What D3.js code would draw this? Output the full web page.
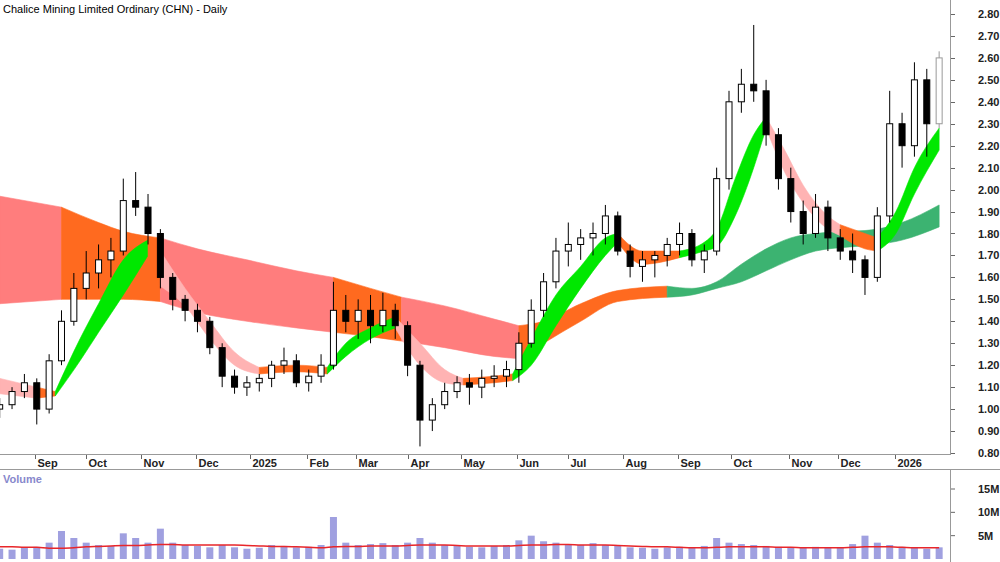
<!DOCTYPE html><html><head><meta charset="utf-8">
<script src="https://cdn.jsdelivr.net/npm/d3@7"></script>
<style>body{margin:0;background:#fff}svg{display:block;font-family:"Liberation Sans",Arial,sans-serif}</style>
</head><body><svg id="c" width="1000" height="562"></svg><script>
// weekly OHLC, weeks starting 2024-08-12
const startWeek = "2024-08-12";
const opens  = [1.00,1.02,1.08,1.12,1.00,1.22,1.40,1.55,1.62,1.68,1.72,1.95,1.92,1.80,1.60,1.50,1.45,1.40,1.28,1.15,1.10,1.12,1.14,1.20,1.22,1.12,1.15,1.20,1.45,1.40,1.45,1.38,1.45,1.38,1.20,0.95,1.02,1.08,1.12,1.10,1.14,1.15,1.18,1.30,1.45,1.58,1.72,1.75,1.78,1.80,1.88,1.72,1.65,1.68,1.70,1.75,1.80,1.68,1.72,2.05,2.40,2.48,2.45,2.25,2.05,1.90,1.80,1.92,1.78,1.72,1.68,1.60,1.88,2.30,2.20,2.50,2.30];
const highs  = [1.05,1.10,1.16,1.14,1.25,1.45,1.62,1.72,1.75,1.78,2.05,2.08,1.98,1.82,1.62,1.52,1.48,1.42,1.30,1.18,1.15,1.16,1.22,1.28,1.25,1.18,1.25,1.58,1.52,1.50,1.52,1.53,1.48,1.40,1.22,1.05,1.12,1.15,1.16,1.18,1.20,1.22,1.35,1.50,1.62,1.78,1.85,1.82,1.85,1.93,1.90,1.75,1.72,1.72,1.78,1.85,1.82,1.75,2.10,2.45,2.55,2.75,2.50,2.28,2.10,1.95,1.98,1.95,1.82,1.80,1.70,1.92,2.45,2.35,2.58,2.55,2.63];
const lows   = [0.96,1.00,1.05,0.93,0.98,1.20,1.38,1.50,1.55,1.60,1.70,1.88,1.75,1.55,1.45,1.40,1.35,1.25,1.10,1.07,1.06,1.08,1.10,1.16,1.10,1.08,1.12,1.18,1.35,1.32,1.30,1.35,1.32,1.15,0.83,0.90,1.00,1.05,1.02,1.05,1.10,1.10,1.12,1.28,1.42,1.55,1.65,1.68,1.70,1.75,1.70,1.60,1.58,1.60,1.65,1.70,1.65,1.62,1.70,2.00,2.35,2.40,2.20,2.00,1.85,1.75,1.78,1.72,1.68,1.62,1.52,1.58,1.85,2.10,2.15,2.15,2.28];
const closes = [1.02,1.08,1.12,1.00,1.22,1.40,1.55,1.62,1.68,1.72,1.95,1.92,1.80,1.60,1.50,1.45,1.40,1.28,1.15,1.10,1.12,1.14,1.20,1.22,1.12,1.15,1.20,1.45,1.40,1.45,1.38,1.45,1.38,1.20,0.95,1.02,1.08,1.12,1.10,1.14,1.15,1.18,1.30,1.45,1.58,1.72,1.75,1.78,1.80,1.88,1.72,1.65,1.68,1.70,1.75,1.80,1.68,1.72,2.05,2.40,2.48,2.45,2.25,2.05,1.90,1.80,1.92,1.78,1.72,1.68,1.60,1.88,2.30,2.20,2.50,2.30,2.60];
const volumes = [2.2,2.0,2.4,2.6,3.5,6.0,4.5,3.5,3.0,2.8,5.5,4.5,3.5,6.5,3.5,3.0,2.8,2.5,3.0,2.5,2.2,2.4,3.0,2.8,2.5,2.6,3.0,9.0,3.5,3.0,3.2,3.4,3.0,3.5,4.5,3.5,3.0,2.8,2.6,2.5,2.8,3.0,4.0,5.0,3.8,3.5,3.2,3.0,3.4,3.0,2.8,2.5,2.4,2.2,2.5,2.6,2.4,2.8,4.5,3.5,3.2,3.0,2.8,2.6,2.5,2.4,2.6,2.4,2.5,3.2,5.0,3.5,3.0,2.6,2.4,2.2,2.5];
const volAvg  = [2.6,2.6,2.5,2.5,2.3,2.3,2.4,2.6,2.7,2.8,2.9,2.9,3.0,3.1,3.1,3.0,3.0,3.0,3.0,3.0,2.9,2.8,2.7,2.7,2.6,2.5,2.4,2.6,2.7,2.7,2.8,2.8,2.8,2.9,3.0,3.0,3.0,2.9,2.8,2.8,2.8,2.8,2.9,3.0,3.0,3.1,3.1,3.0,3.0,3.0,2.9,2.8,2.7,2.6,2.6,2.5,2.4,2.4,2.5,2.6,2.6,2.6,2.6,2.5,2.5,2.4,2.4,2.4,2.4,2.5,2.6,2.6,2.6,2.5,2.4,2.4,2.4];
// ribbon segments: [weekIndex, top, bottom]
const longBand = [
 {c:"pink",  p:[[0,1.97,1.48],[5,1.92,1.50]]},
 {c:"orange",p:[[5,1.92,1.50],[8,1.85,1.50],[10,1.81,1.50],[13,1.78,1.49]]},
 {c:"pink",  p:[[13,1.78,1.49],[16,1.73,1.44],[20,1.68,1.40],[24,1.63,1.37],[27,1.60,1.35]]},
 {c:"orange",p:[[27,1.60,1.35],[30,1.55,1.33],[32.5,1.51,1.31]]},
 {c:"pink",  p:[[32.5,1.51,1.31],[36,1.47,1.28],[40,1.41,1.24],[42,1.38,1.23]]},
 {c:"orange",p:[[42,1.38,1.23],[44,1.40,1.30],[47,1.48,1.40],[50,1.54,1.49],[54,1.56,1.51]]},
 {c:"dgreen",p:[[54,1.56,1.51],[56,1.55,1.52],[58,1.58,1.55],[60,1.66,1.58],[62,1.73,1.63],[64,1.78,1.68],[66,1.80,1.72],[69,1.81,1.74],[71,1.82,1.75],[73,1.85,1.77],[76,1.93,1.83]]}
];
const shortBand = [
 {c:"lpink", p:[[0,1.14,1.07],[3,1.10,1.05]]},
 {c:"orange",p:[[3,1.10,1.05],[4.5,1.08,1.06]]},
 {c:"green", p:[[4.5,1.08,1.06],[6.5,1.32,1.22],[8,1.48,1.35],[10,1.68,1.52],[12,1.77,1.70]]},
 {c:"orange",p:[[12,1.77,1.70],[13,1.72,1.56]]},
 {c:"lpink", p:[[13,1.72,1.56],[15,1.55,1.47],[17,1.40,1.32],[19,1.26,1.20],[21,1.19,1.16]]},
 {c:"orange",p:[[21,1.19,1.16],[24,1.20,1.17],[26.5,1.19,1.16]]},
 {c:"green", p:[[26.5,1.19,1.16],[28,1.30,1.24],[30,1.37,1.32],[32,1.42,1.37]]},
 {c:"lpink", p:[[32,1.42,1.37],[34,1.30,1.20],[36,1.18,1.12],[37.5,1.14,1.11]]},
 {c:"orange",p:[[37.5,1.14,1.11],[40,1.15,1.12],[41.5,1.16,1.13]]},
 {c:"green", p:[[41.5,1.16,1.13],[43,1.32,1.20],[45,1.52,1.38],[47,1.65,1.55],[49,1.78,1.70],[50,1.80,1.76]]},
 {c:"orange",p:[[50,1.80,1.76],[52,1.72,1.66],[55,1.72,1.69]]},
 {c:"green", p:[[55,1.72,1.69],[57,1.76,1.72],[58,1.82,1.74],[59.5,2.05,1.88],[61,2.25,2.10],[62,2.33,2.28]]},
 {c:"lpink", p:[[62,2.33,2.28],[63.5,2.18,2.08],[65,2.02,1.94],[67,1.88,1.82],[68,1.84,1.79]]},
 {c:"orange",p:[[68,1.84,1.79],[70,1.80,1.73],[71,1.78,1.72]]},
 {c:"green", p:[[71,1.78,1.72],[72.5,1.90,1.80],[74,2.10,1.98],[76,2.28,2.18]]}
];
const priceTicks = [0.80,0.90,1.00,1.10,1.20,1.30,1.40,1.50,1.60,1.70,1.80,1.90,2.00,2.10,2.20,2.30,2.40,2.50,2.60,2.70,2.80];
const monthTicks = [["2024-09-02","Sep"],["2024-10-01","Oct"],["2024-11-01","Nov"],["2024-12-02","Dec"],["2025-01-02","2025"],["2025-02-03","Feb"],["2025-03-03","Mar"],["2025-04-01","Apr"],["2025-05-01","May"],["2025-06-02","Jun"],["2025-07-01","Jul"],["2025-08-01","Aug"],["2025-09-01","Sep"],["2025-10-01","Oct"],["2025-11-03","Nov"],["2025-12-01","Dec"],["2026-01-02","2026"]];
const volTicks = [5,10,15];

const colors = {pink:"#ff7d7d",orange:"#ff6a1f",dgreen:"#3cb371",green:"#00e800",lpink:"#ffb3b3"};
const svg = d3.select("#c");
const t0 = new Date(startWeek+"T00:00:00");
const dayMs = 864e5;
const weekDate = i => new Date(t0.getTime()+ (i*7+1)*dayMs);
const x = d3.scaleTime().domain([new Date("2024-09-02T00:00:00"), new Date("2026-01-02T00:00:00")]).range([35,895]);
const xi = i => x(weekDate(i));
const y = d3.scaleLinear().domain([0.80,2.80]).range([453,14]);
const yv = d3.scaleLinear().domain([0,15]).range([559,489]);

function drawBand(segs){
  segs.forEach(s=>{
    const a = d3.area().x(d=>xi(d[0])).y0(d=>y(d[2])).y1(d=>y(d[1])).curve(d3.curveMonotoneX);
    svg.append("path").attr("d",a(s.p)).attr("fill",colors[s.c]).attr("stroke",colors[s.c]).attr("stroke-width",0.6);
  });
}
drawBand(longBand); drawBand(shortBand);

const bw = 6;
closes.forEach((c,i)=>{
  const cx = xi(i), o = opens[i], up = c>=o, last = i===closes.length-1;
  const col = last ? "#999" : "#000";
  svg.append("line").attr("x1",cx).attr("x2",cx).attr("y1",y(highs[i])).attr("y2",y(lows[i])).attr("stroke",col).attr("stroke-width",1);
  const top = y(Math.max(o,c)), bot = y(Math.min(o,c));
  svg.append("rect").attr("x",cx-bw/2).attr("y",top).attr("width",bw).attr("height",Math.max(1,bot-top))
    .attr("fill",up?"#fff":col).attr("stroke",col).attr("stroke-width",1);
});

svg.append("line").attr("x1",950.5).attr("x2",950.5).attr("y1",0).attr("y2",455).attr("stroke","#999");
priceTicks.forEach(p=>{
  svg.append("line").attr("x1",951).attr("x2",955).attr("y1",Math.round(y(p))+0.5).attr("y2",Math.round(y(p))+0.5).attr("stroke","#666");
  svg.append("text").attr("x",978).attr("y",y(p)+4).attr("font-size",11).attr("font-weight","bold").attr("fill","#222").text(p.toFixed(2));
});
svg.append("line").attr("x1",0).attr("x2",951).attr("y1",454.5).attr("y2",454.5).attr("stroke","#999");
svg.append("line").attr("x1",0).attr("x2",1000).attr("y1",469.5).attr("y2",469.5).attr("stroke","#999");
monthTicks.forEach(([d,l])=>{
  const px = Math.round(x(new Date(d+"T00:00:00")))+0.5;
  svg.append("line").attr("x1",px).attr("x2",px).attr("y1",455).attr("y2",459).attr("stroke","#666");
  svg.append("text").attr("x",px+2).attr("y",467).attr("font-size",11).attr("font-weight","bold").attr("fill","#222").text(l);
});
svg.append("line").attr("x1",950.5).attr("x2",950.5).attr("y1",470).attr("y2",562).attr("stroke","#999");
volumes.forEach((v,i)=>{
  const cx = xi(i);
  svg.append("rect").attr("x",cx-3.5).attr("y",yv(v)).attr("width",7).attr("height",yv(0)-yv(v)).attr("fill","#a0a0e0");
});
svg.append("path").attr("d",d3.line().x((d,i)=>xi(i)).y(d=>yv(d)).curve(d3.curveMonotoneX)(volAvg)).attr("fill","none").attr("stroke","#e8262a").attr("stroke-width",1.5);
volTicks.forEach(v=>{
  svg.append("line").attr("x1",951).attr("x2",955).attr("y1",yv(v)).attr("y2",yv(v)).attr("stroke","#666");
  svg.append("text").attr("x",978).attr("y",yv(v)+4).attr("font-size",11).attr("font-weight","bold").attr("fill","#222").text(v+"M");
});
svg.append("text").attr("x",3).attr("y",483).attr("font-size",11).attr("font-weight","bold").attr("fill","#8888cc").text("Volume");
svg.append("text").attr("x",3).attr("y",13).attr("font-size",11).attr("fill","#000").text("Chalice Mining Limited Ordinary (CHN) - Daily");
</script></body></html>
